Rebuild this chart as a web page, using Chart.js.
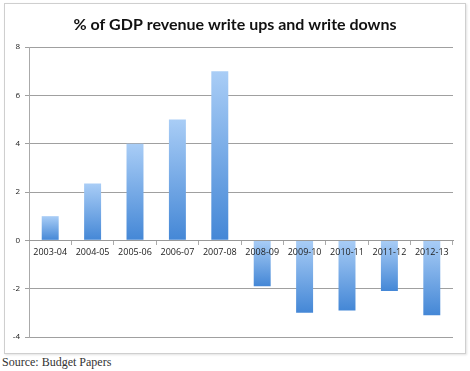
<!DOCTYPE html>
<html>
<head>
<meta charset="utf-8">
<script src="https://cdn.jsdelivr.net/npm/chart.js@4/dist/chart.umd.min.js"></script>
<style>
  body { margin: 0; background: #fff; }
  #wrap { position: relative; width: 470px; height: 371px; }
  #frame { position: absolute; left: 4px; top: 3px; width: 460px; height: 349px; border: 1px solid #cfcfcf; box-shadow: 1px 1px 2px #e2e2e2; }
  #chart { position: absolute; left: 0; top: 0; }
  #source { position: absolute; left: 2px; top: 355px; font: 12px "Liberation Serif", serif; color: #333; }
</style>
</head>
<body>
<div id="wrap">
  <div id="frame"></div>
  <canvas id="chart" width="470" height="355"></canvas>
  <div id="source">Source: Budget Papers</div>
</div>
<script>
const chartTitle = "% of GDP revenue write ups and write downs";
const years = ["2003-04", "2004-05", "2005-06", "2006-07", "2007-08", "2008-09", "2009-10", "2010-11", "2011-12", "2012-13"];
const gdpRevisions = [1.0, 2.35, 4.0, 5.0, 7.0, -1.9, -3.0, -2.9, -2.1, -3.1];
const yTicks = [-4, -2, 0, 2, 4, 6, 8];

// light at the top of each bar, darker towards its bottom
function barGradient(ctx) {
  const chart = ctx.chart;
  if (!chart.chartArea || ctx.raw === undefined) return "#7fb0ea";
  const y = chart.scales.y;
  const top = y.getPixelForValue(Math.max(ctx.raw, 0));
  const bottom = y.getPixelForValue(Math.min(ctx.raw, 0));
  const g = chart.ctx.createLinearGradient(0, top, 0, bottom);
  g.addColorStop(0, "#a9cdf6");
  g.addColorStop(1, "#4487d6");
  return g;
}

// title centred on the whole frame, not on the plot area
const centredTitle = {
  id: "centredTitle",
  afterDraw(chart) {
    const c = chart.ctx;
    c.save();
    c.font = "bold 16px Lato";
    c.fillStyle = "#111";
    c.textAlign = "center";
    c.textBaseline = "middle";
    c.fillText(chartTitle, 235, 25);
    c.restore();
  }
};

new Chart(document.getElementById("chart"), {
  type: "bar",
  data: {
    labels: years,
    datasets: [{
      data: gdpRevisions,
      backgroundColor: barGradient,
      barPercentage: 0.4,
      categoryPercentage: 1
    }]
  },
  plugins: [centredTitle],
  options: {
    responsive: false,
    animation: false,
    layout: { padding: { left: 0, right: 17, top: 47, bottom: 18 } },
    plugins: {
      legend: { display: false },
      tooltip: { enabled: false },
      title: { display: false }
    },
    scales: {
      x: {
        position: { y: 0 },
        grid: { display: true, drawOnChartArea: false, offset: true, tickLength: 4, color: "#aaa", z: 1 },
        border: { color: "#999", z: 1 },
        ticks: { color: "#222", font: { family: "Open Sans", size: 9 }, padding: 3, maxRotation: 0, z: 1 }
      },
      y: {
        min: -4,
        max: 8,
        afterBuildTicks: s => { s.ticks = yTicks.map(v => ({ value: v })); },
        afterFit: s => { s.width = 29; },
        grid: { color: "#a0a0a0", tickLength: 4, lineWidth: 1 },
        border: { color: "#aaa" },
        ticks: { color: "#222", font: { family: "Open Sans", size: 8 }, padding: 5 }
      }
    }
  }
});
</script>
</body>
</html>
